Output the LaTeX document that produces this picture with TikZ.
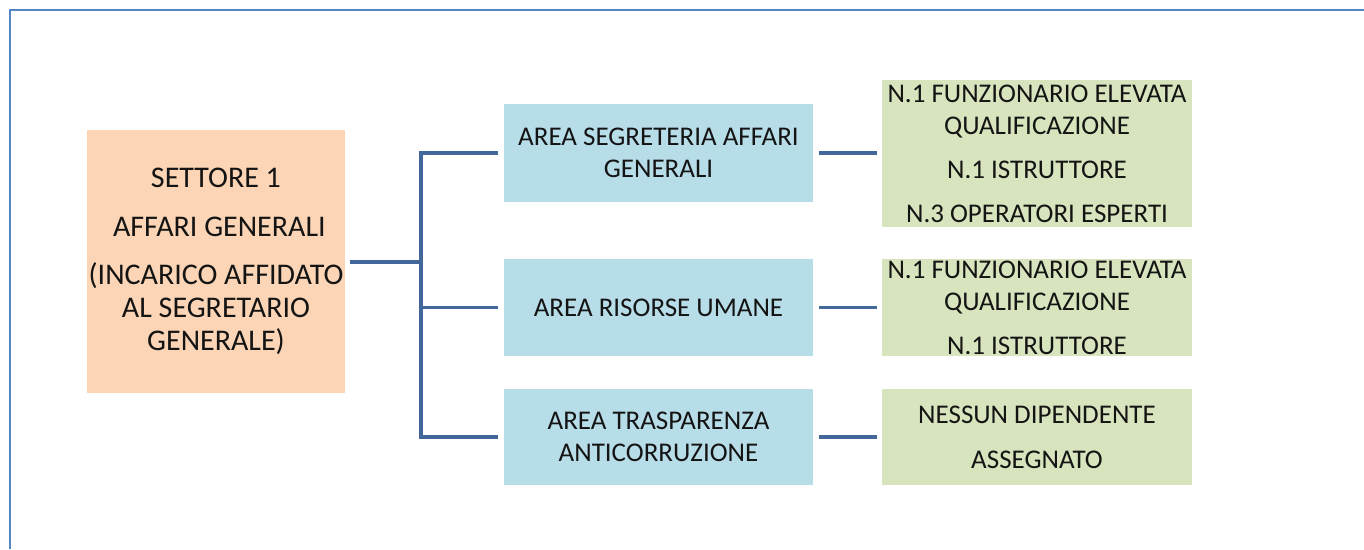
\documentclass[tikz,border=0pt]{standalone}
\usepackage{fontspec}
\setmainfont{Carlito}
\definecolor{frameblue}{RGB}{84,134,196}
\definecolor{connblue}{RGB}{65,103,155}
\definecolor{orangefill}{RGB}{251,213,181}
\definecolor{bluefill}{RGB}{183,221,232}
\definecolor{greenfill}{RGB}{215,228,189}
\definecolor{txt}{RGB}{20,20,20}
\tikzset{
  box/.style={inner sep=0pt, align=center, text=txt,
    font=\fontsize{27}{32}\selectfont},
  obox/.style={box, fill=orangefill, minimum width=258pt, minimum height=263pt,
    font=\fontsize{30}{33}\selectfont},
  bbox/.style={box, fill=bluefill, minimum width=309pt},
  gbox/.style={box, fill=greenfill, minimum width=310pt},
  conn/.style={draw=connblue, line width=3.6pt},
  frame/.style={draw=frameblue, line width=2.2pt}
}
\begin{document}
\begin{tikzpicture}[x=1pt,y=-1pt]
\useasboundingbox (0,0) rectangle (1364,549);
\coordinate (fl) at (10,549);
\coordinate (fc) at (10,10);
\coordinate (fr) at (1364,10);
\draw[frame] (fl) -- (fc) -- (fr);

\node[obox] (o) at (216,261.5) {SETTORE 1\\[16pt] \ AFFARI GENERALI\\[15pt](INCARICO AFFIDATO\\AL SEGRETARIO\\GENERALE)};

\node[bbox, minimum height=98pt] (b1) at (658.5,153) {AREA SEGRETERIA AFFARI\\GENERALI};
\node[bbox, minimum height=97pt] (b2) at (658.5,307.5) {AREA RISORSE UMANE};
\node[bbox, minimum height=96pt] (b3) at (658.5,437) {AREA TRASPARENZA\\ANTICORRUZIONE};

\node[gbox, minimum height=147pt] (g1) at (1037,153.5) {N.1 FUNZIONARIO ELEVATA\\QUALIFICAZIONE\\[12pt]N.1 ISTRUTTORE\\[12pt]N.3 OPERATORI ESPERTI};
\node[gbox, minimum height=97pt] (g2) at (1037,307.5) {N.1 FUNZIONARIO ELEVATA\\QUALIFICAZIONE\\[12pt]N.1 ISTRUTTORE};
\node[gbox, minimum height=96pt] (g3) at (1037,437) {NESSUN DIPENDENTE\\[13pt]ASSEGNATO};

\coordinate (jx) at (421,262);
\draw[conn] ([xshift=5pt]o.east |- jx) -- (jx);
\draw[conn, line join=miter] ([xshift=-6pt]b1.west) -| (jx |- b3.west) -- ([xshift=-6pt]b3.west);
\draw[conn] ([xshift=-6pt]b2.west) -- (jx |- b2.west);

\draw[conn] ([xshift=6pt]b1.east) -- ([xshift=-5pt]g1.west |- b1.east);
\draw[conn] ([xshift=6pt]b2.east) -- ([xshift=-5pt]g2.west);
\draw[conn] ([xshift=6pt]b3.east) -- ([xshift=-5pt]g3.west);
\end{tikzpicture}
\end{document}
